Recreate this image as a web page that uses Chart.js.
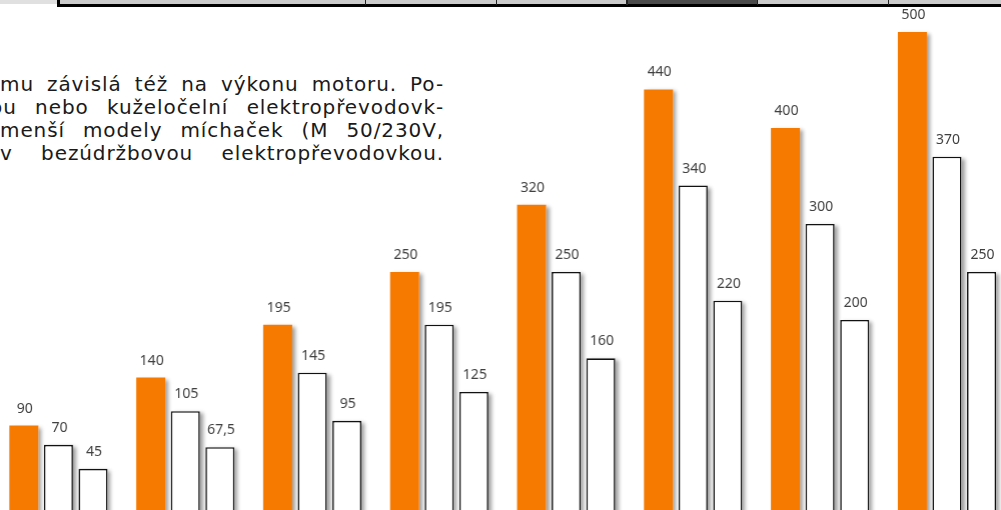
<!DOCTYPE html>
<html>
<head>
<meta charset="utf-8">
<script src="https://cdn.jsdelivr.net/npm/chart.js@4/dist/chart.umd.min.js"></script>
<style>
  html, body { margin: 0; padding: 0; background: #fff; overflow: hidden; }
  body { width: 1001px; height: 510px; position: relative; }
  .strip { position: absolute; }
  .txt {
    position: absolute; left: 0; width: 444px; height: 23px; line-height: 23px;
    font-family: "DejaVu Sans", sans-serif; font-size: 20px; letter-spacing: 0.9px; color: #1a1a1a;
    text-align: justify; text-align-last: justify; white-space: nowrap;
  }
  #wrap { position: absolute; left: -4.6px; top: 0; width: 1014.4px; height: 512px; }
</style>
</head>
<body>
<!-- table header cut off at the top -->
<div class="strip" style="left:0;top:0;width:57px;height:4px;background:#e0e0e0"></div>
<div class="strip" style="left:60px;top:0;width:941px;height:4px;background:#cbcbcb"></div>
<div class="strip" style="left:628px;top:0;width:129px;height:4px;background:#4b4b4b"></div>
<div class="strip" style="left:57px;top:0;width:3px;height:6px;background:#000"></div>
<div class="strip" style="left:57px;top:4px;width:944px;height:2.5px;background:#000"></div>
<div class="strip" style="left:365px;top:0;width:1px;height:5px;background:#222"></div>
<div class="strip" style="left:496px;top:0;width:1px;height:5px;background:#222"></div>
<div class="strip" style="left:626px;top:0;width:2px;height:5px;background:#222"></div>
<div class="strip" style="left:757px;top:0;width:1px;height:5px;background:#222"></div>
<div class="strip" style="left:888px;top:0;width:1px;height:5px;background:#222"></div>

<div class="txt" style="top:73px">mu závislá též na výkonu motoru. Po-</div>
<div class="txt" style="top:96px;left:-10px;width:454px">ou nebo kuželočelní elektropřevodovk-</div>
<div class="txt" style="top:119px">menší modely míchaček (M 50/230V,</div>
<div class="txt" style="top:142px">v bezúdržbovou elektropřevodovkou.</div>

<div id="wrap"><canvas id="chart"></canvas></div>

<script>
const categories = ['1', '2', '3', '4', '5', '6', '7', '8'];
const seriesA = [90, 140, 195, 250, 320, 440, 400, 500];
const seriesB = [70, 105, 145, 195, 250, 340, 300, 370];
const seriesC = [45, 67.5, 95, 125, 160, 220, 200, 250];

const ORANGE = '#f67a00';

// soft shadow to the right of every bar, drawn before the bars themselves
const barShadow = {
  id: 'barShadow',
  beforeDatasetsDraw(chart) {
    const ctx = chart.ctx;
    chart.data.datasets.forEach((ds, i) => {
      chart.getDatasetMeta(i).data.forEach(bar => {
        ctx.save();
        ctx.shadowColor = 'rgba(0,0,0,0.38)';
        ctx.shadowBlur = 4;
        ctx.shadowOffsetX = 3;
        ctx.shadowOffsetY = 2;
        ctx.fillStyle = '#fff';
        ctx.fillRect(bar.x - bar.width / 2, bar.y, bar.width, bar.base - bar.y);
        ctx.restore();
      });
    });
  }
};

// value labels above the bars, with decimal comma
const valueLabels = {
  id: 'valueLabels',
  afterDatasetsDraw(chart) {
    const ctx = chart.ctx;
    ctx.save();
    ctx.font = '14px "Noto Sans", sans-serif';
    ctx.fillStyle = '#404040';
    ctx.textAlign = 'center';
    ctx.textBaseline = 'middle';
    chart.data.datasets.forEach((ds, i) => {
      chart.getDatasetMeta(i).data.forEach((bar, j) => {
        const txt = String(ds.data[j]).replace('.', ',');
        ctx.fillText(txt, bar.x + 1, bar.y - 17);
      });
    });
    ctx.restore();
  }
};

new Chart(document.getElementById('chart'), {
  type: 'bar',
  data: {
    labels: categories,
    datasets: [
      { data: seriesA, backgroundColor: ORANGE, borderWidth: 0 },
      { data: seriesB, backgroundColor: '#fff', borderColor: '#111', borderWidth: 1.6 },
      { data: seriesC, backgroundColor: '#fff', borderColor: '#111', borderWidth: 1.6 }
    ]
  },
  options: {
    responsive: true,
    maintainAspectRatio: false,
    animation: false,
    layout: { padding: 0 },
    datasets: { bar: { categoryPercentage: 0.818, barPercentage: 0.84 } },
    scales: {
      x: { display: false },
      y: { display: false, min: 0, max: 533.2 }
    },
    plugins: {
      legend: { display: false },
      tooltip: { enabled: false }
    }
  },
  plugins: [barShadow, valueLabels]
});
</script>
</body>
</html>
